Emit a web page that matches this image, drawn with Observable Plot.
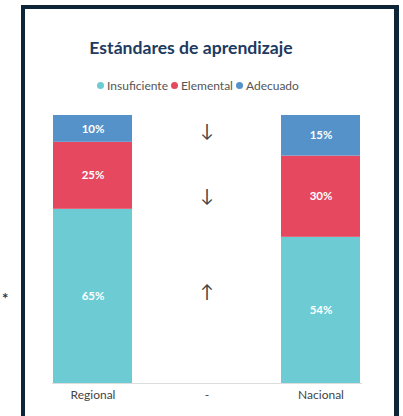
<!DOCTYPE html>
<html>
<head>
<meta charset="utf-8">
<script src="https://cdn.jsdelivr.net/npm/d3@7"></script>
<script src="https://cdn.jsdelivr.net/npm/@observablehq/plot@0.6"></script>
<style>
  html, body { margin: 0; padding: 0; background: #fff; overflow: hidden; }
  body { width: 403px; height: 416px; position: relative; font-family: Lato, "Open Sans", sans-serif; }
  #chart { position: absolute; left: 0; top: 0; }
  #frame { position: absolute; left: 21px; top: 5px; width: 369px; height: 440px;
           border-left: 4px solid #0c2538; border-right: 5px solid #0c2538; border-top: 4px solid #0c2538;
           background: transparent; pointer-events: none; }
  #title { position: absolute; left: 0; width: 382px; top: 37px; text-align: center;
           font-weight: 700; font-size: 17.6px; line-height: 22px; color: #1d3a60; }
  #legend { position: absolute; left: 0; width: 399px; top: 78px; text-align: center;
            font-size: 12px; line-height: 16px; color: #555; }
  #legend .sw { display: inline-block; width: 7px; height: 7px; border-radius: 50%; margin-right: 3px; vertical-align: 1px; }
  #legend .it { margin-right: 3px; }
  #star { position: absolute; left: 2px; top: 290px; font-size: 15px; font-weight: 700; color: #1d3a60; line-height: 16px; }
</style>
</head>
<body>
<div id="chart"></div>
<div id="frame"></div>
<div id="title"></div>
<div id="legend"></div>
<div id="star">*</div>
<script>
const titleText = "Estándares de aprendizaje";
const groups = ["Regional", "-", "Nacional"];
const levels = ["Insuficiente", "Elemental", "Adecuado"];
const levelColors = ["#6ccbd3", "#e5485f", "#5592c9"];
const regionalValues = [65, 25, 10];
const nacionalValues = [54, 30, 15];
const arrowSymbols = ["↑", "↓", "↓"];
const arrowY = [0.34, 0.70, 0.94];

document.getElementById("title").textContent = titleText;
const legend = document.getElementById("legend");
levels.forEach((l, i) => {
  const it = document.createElement("span");
  it.className = "it";
  const sw = document.createElement("span");
  sw.className = "sw";
  sw.style.background = levelColors[i];
  it.appendChild(sw);
  it.appendChild(document.createTextNode(l));
  legend.appendChild(it);
});

const rows = [];
levels.forEach((l, i) => rows.push({group: "Regional", level: l, value: regionalValues[i]}));
levels.forEach((l, i) => rows.push({group: "Nacional", level: l, value: nacionalValues[i]}));
const arrows = arrowSymbols.map((s, i) => ({group: "-", symbol: s, y: arrowY[i]}));

const stackOpts = {x: "group", y: "value", z: "level", offset: "normalize"};

const plot = Plot.plot({
  width: 403,
  height: 416,
  marginTop: 115,
  marginBottom: 33,
  marginLeft: 52,
  marginRight: 41,
  style: {fontFamily: "Lato, 'Open Sans', sans-serif", background: "transparent"},
  x: {domain: groups, paddingInner: 0.304, paddingOuter: 0, label: null},
  y: {domain: [0, 1], axis: null},
  color: {domain: levels, range: levelColors},
  marks: [
    Plot.barY(rows, Plot.stackY({...stackOpts, fill: "level"})),
    Plot.text(rows, Plot.stackY({...stackOpts, text: d => d.value + "%", fill: "white", fontWeight: 700, fontSize: 11.5})),
    Plot.text(arrows, {x: "group", y: "y", text: "symbol", fill: "#444", fontSize: 18, fontFamily: "Lato"}),
    Plot.ruleY([0], {stroke: "#ddd"}),
    Plot.axisX({tickSize: 0, tickPadding: 7, fontSize: 12, color: "#444", label: null})
  ]
});
document.getElementById("chart").appendChild(plot);
</script>
</body>
</html>
